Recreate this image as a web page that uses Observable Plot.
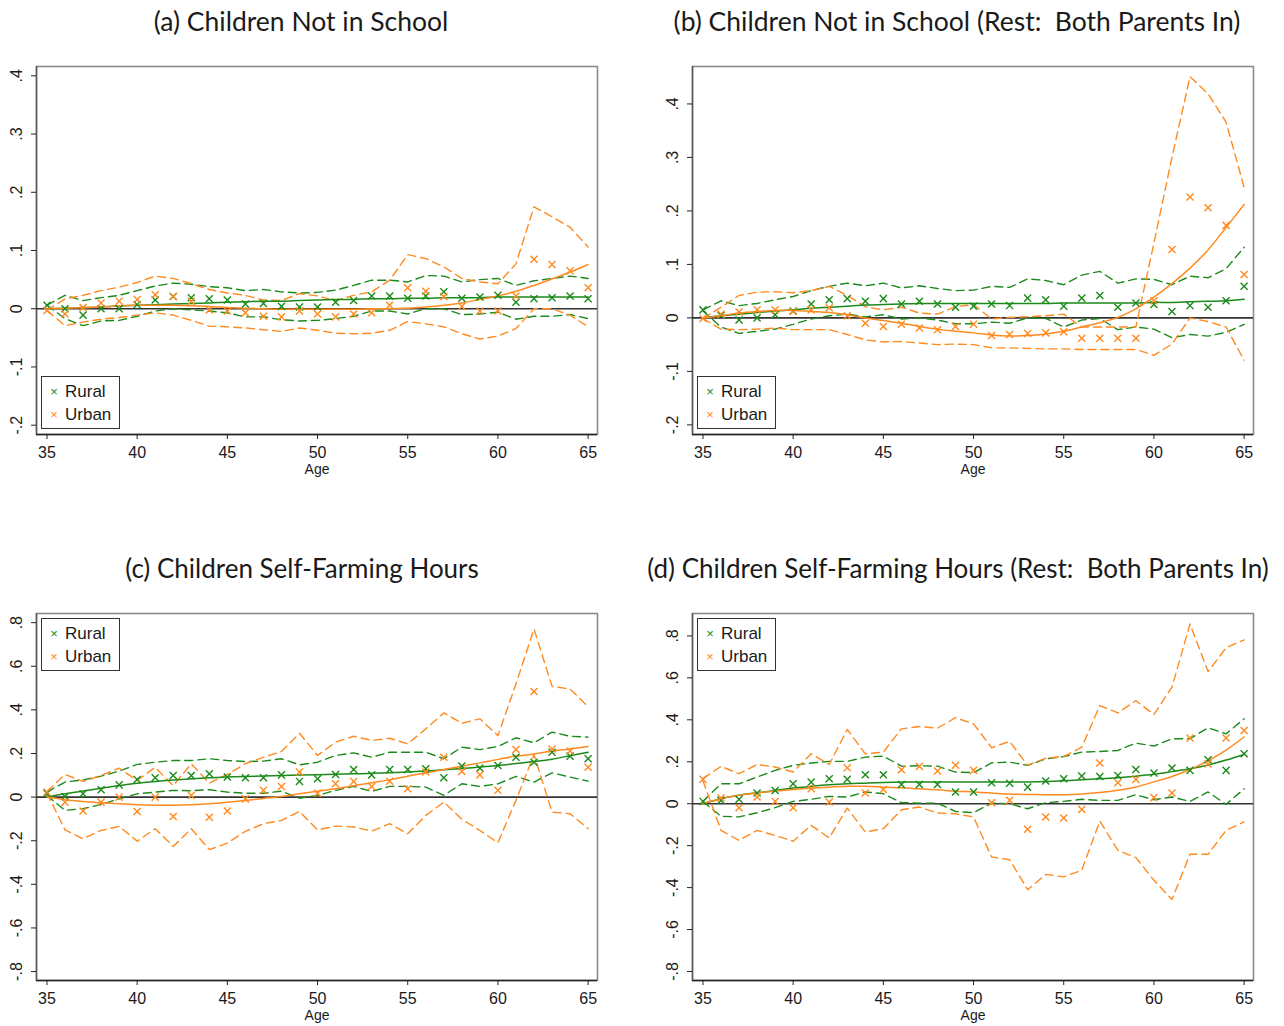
<!DOCTYPE html>
<html><head><meta charset="utf-8">
<script src="https://cdn.jsdelivr.net/npm/d3@7"></script>
<script src="https://cdn.jsdelivr.net/npm/@observablehq/plot@0.6"></script>
<style>
html,body{margin:0;padding:0;background:#fff}
body{width:1284px;height:1026px;overflow:hidden;position:relative;font-family:"Liberation Sans",Arial,sans-serif}
.title{position:absolute;font-family:"Lato",sans-serif;font-size:26.5px;white-space:pre;transform:translateX(-50%);color:#1a1a1a;line-height:1}
.panel{position:absolute}
.legend{position:absolute;width:77px;height:51px;border:1px solid #333;background:#fff;font-size:17px;color:#1a1a1a}
.legend .row{position:absolute;left:0;height:20px;line-height:20px;white-space:nowrap}
.legend .mk{position:absolute;left:7px;font-size:13px;width:10px;text-align:center}
.legend .lb{position:absolute;left:23px}
</style>
</head><body>
<script>
const ages = [35,36,37,38,39,40,41,42,43,44,45,46,47,48,49,50,51,52,53,54,55,56,57,58,59,60,61,62,63,64,65];
const xTicks = [35,40,45,50,55,60,65];
const yTicksTop = [-0.2,-0.1,0,0.1,0.2,0.3,0.4];
const yTicksBottom = [-0.8,-0.6,-0.4,-0.2,0,0.2,0.4,0.6,0.8];
const seriesNames = ["Rural","Urban"];
const titles = ["(a) Children Not in School","(b) Children Not in School (Rest:  Both Parents In)","(c) Children Self-Farming Hours","(d) Children Self-Farming Hours (Rest:  Both Parents In)"];

// Panel (a)
const aRuralPt  = [0.006,0,-0.011,0,0,0.007,0.015,0.021,0.019,0.017,0.015,0.008,0.009,0.004,0.003,0.003,0.011,0.014,0.022,0.022,0.018,0.022,0.029,0.018,0.02,0.023,0.011,0.017,0.019,0.022,0.017];
const aRuralFit = [0,0.001,0.002,0.003,0.005,0.006,0.007,0.008,0.009,0.01,0.011,0.012,0.013,0.013,0.014,0.015,0.016,0.016,0.017,0.017,0.018,0.018,0.019,0.019,0.019,0.02,0.02,0.02,0.02,0.02,0.02];
const aRuralHi  = [0.006,0.023,0.014,0.019,0.023,0.031,0.039,0.044,0.042,0.038,0.036,0.031,0.033,0.029,0.027,0.028,0.032,0.04,0.049,0.049,0.046,0.057,0.056,0.046,0.05,0.052,0.04,0.048,0.052,0.056,0.052];
const aRuralLo  = [0.006,-0.017,-0.029,-0.021,-0.02,-0.013,-0.004,0,-0.002,-0.004,-0.007,-0.014,-0.014,-0.019,-0.021,-0.02,-0.017,-0.013,-0.004,-0.004,-0.009,0,0,-0.01,-0.009,-0.006,-0.018,-0.013,-0.013,-0.01,-0.017];
const aUrbanPt  = [-0.003,-0.009,0.002,0.01,0.013,0.016,0.024,0.021,0.013,-0.002,-0.004,-0.007,-0.013,-0.014,-0.004,-0.009,-0.014,-0.009,-0.007,0.006,0.036,0.03,0.021,0.004,-0.004,-0.004,0.022,0.085,0.076,0.065,0.036];
const aUrbanFit = [0,0.001,0.002,0.003,0.005,0.006,0.006,0.006,0.005,0.004,0.002,0.001,0,-0.001,-0.001,-0.001,-0.001,-0.001,0,0,0.001,0.003,0.006,0.01,0.016,0.022,0.03,0.04,0.051,0.063,0.076];
const aUrbanHi  = [-0.003,0.017,0.023,0.031,0.037,0.045,0.056,0.052,0.043,0.033,0.027,0.023,0.015,0.014,0.026,0.022,0.014,0.023,0.029,0.049,0.093,0.086,0.072,0.052,0.046,0.043,0.077,0.175,0.158,0.14,0.106];
const aUrbanLo  = [-0.003,-0.029,-0.023,-0.018,-0.015,-0.011,-0.007,-0.011,-0.02,-0.03,-0.031,-0.033,-0.036,-0.039,-0.033,-0.037,-0.042,-0.043,-0.042,-0.037,-0.022,-0.026,-0.031,-0.043,-0.052,-0.047,-0.034,0,0,-0.011,-0.031];

// Panel (b)
const bRuralPt  = [0.015,0.005,-0.004,0,0.006,0.013,0.026,0.034,0.036,0.031,0.036,0.026,0.031,0.026,0.02,0.022,0.026,0.023,0.037,0.034,0.022,0.037,0.042,0.02,0.028,0.025,0.012,0.023,0.02,0.032,0.059];
const bRuralFit = [0,0.004,0.007,0.01,0.013,0.015,0.018,0.02,0.022,0.024,0.025,0.026,0.027,0.027,0.027,0.027,0.027,0.027,0.027,0.027,0.028,0.028,0.028,0.028,0.028,0.029,0.029,0.03,0.031,0.032,0.035];
const bRuralHi  = [0.015,0.032,0.023,0.027,0.034,0.04,0.051,0.059,0.065,0.06,0.065,0.056,0.06,0.055,0.051,0.052,0.059,0.057,0.073,0.07,0.062,0.08,0.087,0.065,0.073,0.072,0.062,0.078,0.075,0.092,0.132];
const bRuralLo  = [0.013,-0.017,-0.029,-0.025,-0.021,-0.012,-0.002,0.004,0.007,0.002,0.006,-0.002,0,-0.004,-0.011,-0.011,-0.008,-0.01,0,-0.001,-0.017,-0.004,-0.001,-0.022,-0.017,-0.021,-0.037,-0.031,-0.034,-0.027,-0.012];
const bUrbanPt  = [-0.001,0.007,0.011,0.015,0.015,0.012,0.015,0.019,0.004,-0.01,-0.016,-0.012,-0.019,-0.022,-0.016,-0.012,-0.033,-0.031,-0.029,-0.028,-0.026,-0.038,-0.038,-0.038,-0.038,0.032,0.128,0.226,0.206,0.173,0.081];
const bUrbanFit = [0,0.004,0.009,0.012,0.014,0.014,0.012,0.01,0.006,0,-0.005,-0.01,-0.016,-0.021,-0.025,-0.028,-0.032,-0.034,-0.033,-0.03,-0.025,-0.017,-0.009,0.001,0.017,0.039,0.064,0.093,0.127,0.169,0.212];
const bUrbanHi  = [-0.001,0.02,0.042,0.048,0.049,0.047,0.051,0.059,0.042,0.021,0.015,0.02,0.009,0.007,0.021,0.025,-0.002,0.001,0.002,0.004,0.007,-0.017,-0.017,-0.017,-0.017,0.14,0.3,0.451,0.419,0.366,0.244];
const bUrbanLo  = [-0.001,-0.021,-0.022,-0.021,-0.019,-0.022,-0.022,-0.022,-0.031,-0.041,-0.045,-0.044,-0.047,-0.05,-0.049,-0.05,-0.056,-0.056,-0.057,-0.058,-0.058,-0.059,-0.059,-0.059,-0.059,-0.07,-0.049,0,-0.007,-0.017,-0.079];

// Panel (c)
const cRuralPt  = [0.018,0.003,0.015,0.034,0.056,0.081,0.089,0.099,0.099,0.107,0.092,0.089,0.089,0.102,0.072,0.084,0.104,0.127,0.102,0.127,0.127,0.13,0.089,0.142,0.133,0.145,0.183,0.16,0.206,0.188,0.176];
const cRuralFit = [0,0.015,0.028,0.041,0.053,0.064,0.072,0.079,0.084,0.089,0.092,0.095,0.097,0.099,0.101,0.103,0.105,0.107,0.109,0.112,0.115,0.12,0.125,0.131,0.138,0.145,0.154,0.163,0.174,0.19,0.206];
const cRuralHi  = [0.023,0.069,0.079,0.096,0.119,0.15,0.16,0.168,0.168,0.176,0.168,0.163,0.165,0.176,0.148,0.16,0.191,0.203,0.183,0.206,0.206,0.206,0.176,0.229,0.218,0.232,0.272,0.249,0.298,0.279,0.275];
const cRuralLo  = [0.008,-0.061,-0.053,-0.034,-0.008,0.015,0.023,0.031,0.029,0.034,0.023,0.018,0.018,0.027,-0.005,0.008,0.031,0.049,0.026,0.049,0.049,0.046,0.008,0.061,0.049,0.061,0.095,0.069,0.111,0.092,0.073];
const cUrbanPt  = [0.023,-0.023,-0.064,-0.023,0,-0.066,0,-0.089,0.008,-0.092,-0.064,-0.008,0.031,0.049,0.115,0.018,0.061,0.072,0.049,0.073,0.038,0.115,0.183,0.118,0.102,0.031,0.218,0.484,0.221,0.211,0.137];
const cUrbanFit = [0,-0.012,-0.02,-0.026,-0.031,-0.035,-0.037,-0.037,-0.035,-0.031,-0.024,-0.015,-0.006,0.003,0.015,0.027,0.038,0.052,0.066,0.079,0.096,0.111,0.127,0.142,0.157,0.173,0.188,0.198,0.211,0.221,0.232];
const cUrbanHi  = [0.026,0.104,0.072,0.099,0.133,0.076,0.137,0.053,0.153,0.064,0.104,0.153,0.183,0.209,0.293,0.191,0.252,0.279,0.26,0.27,0.244,0.313,0.386,0.339,0.359,0.282,0.519,0.771,0.508,0.496,0.415];
const cUrbanLo  = [0.018,-0.15,-0.191,-0.153,-0.134,-0.202,-0.145,-0.226,-0.145,-0.241,-0.211,-0.157,-0.122,-0.107,-0.066,-0.15,-0.133,-0.137,-0.156,-0.122,-0.168,-0.084,-0.023,-0.102,-0.153,-0.209,-0.015,0.195,-0.069,-0.076,-0.145];

// Panel (d)
const dRuralPt  = [0.011,0.016,0.021,0.051,0.063,0.095,0.103,0.119,0.116,0.138,0.138,0.092,0.092,0.092,0.056,0.056,0.1,0.098,0.079,0.108,0.119,0.132,0.13,0.135,0.163,0.146,0.17,0.159,0.21,0.159,0.238];
const dRuralFit = [0,0.024,0.04,0.052,0.063,0.075,0.083,0.09,0.095,0.098,0.101,0.103,0.103,0.103,0.103,0.103,0.103,0.103,0.104,0.106,0.11,0.114,0.119,0.124,0.131,0.14,0.153,0.167,0.185,0.208,0.235];
const dRuralHi  = [0.011,0.095,0.095,0.127,0.159,0.183,0.194,0.202,0.202,0.222,0.227,0.179,0.181,0.179,0.151,0.148,0.195,0.198,0.183,0.214,0.225,0.246,0.249,0.254,0.289,0.275,0.31,0.31,0.362,0.333,0.405];
const dRuralLo  = [0.011,-0.06,-0.063,-0.043,-0.019,0.011,0.021,0.035,0.032,0.056,0.048,0.005,0.003,0.003,-0.037,-0.043,0.003,0,-0.024,0.005,0.011,0.021,0.016,0.016,0.043,0.019,0.032,0.011,0.056,-0.003,0.071];
const dUrbanPt  = [0.116,0.027,-0.019,0.032,0.011,-0.019,0.071,0.008,0.171,0.051,0.068,0.162,0.178,0.156,0.183,0.159,0.005,0.016,-0.122,-0.063,-0.068,-0.027,0.194,0.1,0.116,0.029,0.051,0.313,0.19,0.313,0.349];
const dUrbanFit = [0,0.024,0.04,0.052,0.06,0.068,0.075,0.079,0.083,0.083,0.079,0.076,0.071,0.066,0.06,0.056,0.051,0.046,0.044,0.043,0.043,0.046,0.053,0.064,0.08,0.104,0.13,0.163,0.205,0.256,0.318];
const dUrbanHi  = [0.12,0.178,0.143,0.187,0.175,0.151,0.238,0.187,0.354,0.238,0.246,0.357,0.368,0.36,0.41,0.381,0.267,0.297,0.183,0.217,0.225,0.27,0.468,0.433,0.492,0.425,0.556,0.857,0.63,0.743,0.781];
const dUrbanLo  = [0.11,-0.127,-0.175,-0.127,-0.151,-0.179,-0.103,-0.163,-0.021,-0.135,-0.119,-0.029,-0.016,-0.044,-0.048,-0.063,-0.254,-0.267,-0.41,-0.337,-0.349,-0.317,-0.083,-0.222,-0.257,-0.365,-0.457,-0.241,-0.241,-0.127,-0.087];

const GREEN = "#1b8a1b";
const ORANGE = "#ff8a1f";
const DASH = "8,5";
const fmt = d => d === 0 ? "0" : (d < 0 ? "-" : "") + Math.abs(d).toFixed(1).replace(/^0/, "");

const panels = [
  {title: titles[0], left: 0, top: 56, height: 430, ml: 36, mr: 45, mt: 10, mb: 52, yDomain: [-0.216, 0.416], yTicks: yTicksTop, titleX: 301, titleY: 8, titleSize: 26.5, legendX: 41, legendY: 376,
   s: [aRuralPt, aRuralFit, aRuralHi, aRuralLo, aUrbanPt, aUrbanFit, aUrbanHi, aUrbanLo]},
  {title: titles[1], left: 642, top: 56, height: 430, ml: 50, mr: 31, mt: 10, mb: 52, yDomain: [-0.218, 0.47], yTicks: yTicksTop, titleX: 957, titleY: 8, titleSize: 26.5, legendX: 697, legendY: 376,
   s: [bRuralPt, bRuralFit, bRuralHi, bRuralLo, bUrbanPt, bUrbanFit, bUrbanHi, bUrbanLo]},
  {title: titles[2], left: 0, top: 602, height: 424, ml: 36, mr: 45, mt: 11, mb: 46, yDomain: [-0.841, 0.842], yTicks: yTicksBottom, titleX: 302, titleY: 555, titleSize: 26, legendX: 41, legendY: 618,
   s: [cRuralPt, cRuralFit, cRuralHi, cRuralLo, cUrbanPt, cUrbanFit, cUrbanHi, cUrbanLo]},
  {title: titles[3], left: 642, top: 602, height: 424, ml: 50, mr: 31, mt: 11, mb: 46, yDomain: [-0.843, 0.907], yTicks: yTicksBottom, titleX: 958, titleY: 555, titleSize: 26, legendX: 697, legendY: 618,
   s: [dRuralPt, dRuralFit, dRuralHi, dRuralLo, dUrbanPt, dUrbanFit, dUrbanHi, dUrbanLo]}
];

const xDomain = [34.42, 65.52];

for (const p of panels) {
  const rows = ages.map((age, i) => ({
    age, rPt: p.s[0][i], rFit: p.s[1][i], rHi: p.s[2][i], rLo: p.s[3][i],
    uPt: p.s[4][i], uFit: p.s[5][i], uHi: p.s[6][i], uLo: p.s[7][i]
  }));
  const chart = Plot.plot({
    width: 642, height: p.height,
    marginLeft: p.ml, marginRight: p.mr, marginTop: p.mt, marginBottom: p.mb,
    x: {domain: xDomain},
    y: {domain: p.yDomain},
    style: {fontFamily: "'Liberation Sans', Arial, sans-serif", fontSize: "16px", background: "white", color: "#1a1a1a", overflow: "visible"},
    marks: [
      Plot.frame({stroke: "#8a8a8a", strokeWidth: 1.6}),
      Plot.ruleY([p.yDomain[0]], {stroke: "#222", strokeWidth: 1.4}),
      Plot.ruleX([xDomain[0]], {stroke: "#555", strokeWidth: 1.4}),
      Plot.ruleY([0], {stroke: "#333", strokeWidth: 1.6}),
      Plot.line(rows, {x: "age", y: "rHi", stroke: GREEN, strokeWidth: 1.4, strokeDasharray: DASH}),
      Plot.line(rows, {x: "age", y: "rLo", stroke: GREEN, strokeWidth: 1.4, strokeDasharray: DASH}),
      Plot.line(rows, {x: "age", y: "uHi", stroke: ORANGE, strokeWidth: 1.4, strokeDasharray: DASH}),
      Plot.line(rows, {x: "age", y: "uLo", stroke: ORANGE, strokeWidth: 1.4, strokeDasharray: DASH}),
      Plot.line(rows, {x: "age", y: "rFit", stroke: GREEN, strokeWidth: 1.5, curve: "catmull-rom"}),
      Plot.line(rows, {x: "age", y: "uFit", stroke: ORANGE, strokeWidth: 1.5, curve: "catmull-rom"}),
      Plot.dot(rows, {x: "age", y: "rPt", symbol: "times", stroke: GREEN, r: 3.3, strokeWidth: 1.4}),
      Plot.dot(rows, {x: "age", y: "uPt", symbol: "times", stroke: ORANGE, r: 3.3, strokeWidth: 1.4}),
      Plot.axisX({ticks: xTicks, tickFormat: d => String(d), tickSize: 5, tickPadding: 7, fontSize: 16, label: null, stroke: "#222"}),
      Plot.axisY({ticks: p.yTicks, tickFormat: fmt, tickRotate: -90, tickSize: 5, tickPadding: 10, fontSize: 16, label: null, stroke: "#222"}),
      Plot.text(["Age"], {text: d => d, frameAnchor: "bottom", dy: 39, fontSize: 14, fill: "#1a1a1a"})
    ]
  });
  const wrap = document.createElement("div");
  wrap.className = "panel";
  wrap.style.left = p.left + "px";
  wrap.style.top = p.top + "px";
  wrap.appendChild(chart);
  document.body.appendChild(wrap);

  const t = document.createElement("div");
  t.className = "title";
  t.style.left = p.titleX + "px";
  t.style.top = p.titleY + "px";
  t.style.fontSize = p.titleSize + "px";
  t.textContent = p.title;
  document.body.appendChild(t);

  const lg = document.createElement("div");
  lg.className = "legend";
  lg.style.left = p.legendX + "px";
  lg.style.top = p.legendY + "px";
  seriesNames.forEach((name, i) => {
    const r = document.createElement("div");
    r.className = "row";
    r.style.top = (5 + i * 23) + "px";
    r.innerHTML = `<span class="mk" style="color:${i === 0 ? GREEN : ORANGE}">×</span><span class="lb">${name}</span>`;
    lg.appendChild(r);
  });
  document.body.appendChild(lg);
}
</script>
</body></html>
